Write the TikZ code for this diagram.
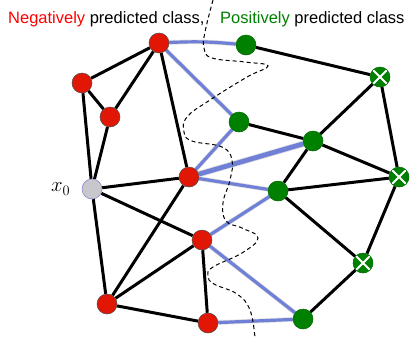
\documentclass[tikz,border=0pt]{standalone}
\usepackage{fontspec}
\setsansfont{Liberation Sans}
\usetikzlibrary{positioning,backgrounds}

\definecolor{negred}{RGB}{226,22,4}
\definecolor{posgreen}{RGB}{0,128,0}
\definecolor{cfblue}{RGB}{112,128,214}
\definecolor{querygray}{RGB}{200,200,204}

\begin{document}
\begin{tikzpicture}[
    x=1pt, y=-1pt,
    vertex/.style={circle, minimum size=20pt, inner sep=0pt, line width=0.5pt},
    negnode/.style={vertex, draw=black!70, fill=negred},
    posnode/.style={vertex, draw=posgreen!80!black, fill=posgreen},
    flipnode/.style={posnode, path picture={
        \draw[white, line width=2pt]
            ([shift={(-8pt,-8pt)}]path picture bounding box.center) -- ([shift={(8pt,8pt)}]path picture bounding box.center)
            ([shift={(-8pt,8pt)}]path picture bounding box.center) -- ([shift={(8pt,-8pt)}]path picture bounding box.center);}},
    querynode/.style={vertex, draw=black!40!blue!50, fill=querygray},
    link/.style={line width=3pt, black},
    cflink/.style={line width=3.2pt, cfblue, preaction={draw=black!12, line width=4.6pt}},
    headtext/.style={font=\sffamily\fontsize{16.5}{20}\selectfont, inner sep=0pt, anchor=base west}
]
    \useasboundingbox (0,0) rectangle (415,338);

    % Titles
    \node[headtext] (negtitle) at (8,23) {\textcolor{red}{Negatively} predicted class,};
    \node[headtext] (postitle) at (220,23) {\textcolor{posgreen}{Positively} predicted class};

    % Query point
    \node[querynode] (x0) at (92,189) {};
    \node[left=8pt of x0, font=\fontsize{22}{26}\selectfont] (x0lbl) {$x_0$};

    % Negatively predicted nodes
    \node[negnode] (r1) at (159,43) {};
    \node[negnode] (r2) at (82,83) {};
    \node[negnode] (r3) at (110,117) {};
    \node[negnode] (r4) at (189,177) {};
    \node[negnode] (r5) at (202,240) {};
    \node[negnode] (r6) at (107,304) {};
    \node[negnode] (r7) at (208,323) {};

    % Positively predicted nodes
    \node[posnode] (g1) at (246,45) {};
    \node[posnode] (g2) at (239,122) {};
    \node[posnode] (g3) at (313,141) {};
    \node[posnode] (g4) at (278,191) {};
    \node[posnode] (g5) at (303,319) {};
    \node[flipnode] (gx1) at (380,77) {};
    \node[flipnode] (gx2) at (399,177) {};
    \node[flipnode] (gx3) at (363,263) {};

    \begin{scope}[on background layer]
    % Edges
    \draw[link] (r1) -- (r2);
    \draw[link] (r1) -- (r3);
    \draw[link] (r1) -- (r4);
    \draw[link] (r2) -- (r3);
    \draw[link] (r2) -- (x0);
    \draw[link] (r3) -- (x0);
    \draw[link] (x0) -- (r4);
    \draw[link] (x0) -- (r5);
    \draw[link] (x0) -- (r6);
    \draw[link] (r4) -- (r6);
    \draw[link] (r5) -- (r6);
    \draw[link] (r5) -- (r7);
    \draw[link] (r6) -- (r7);
    \draw[link] (g1) -- (gx1);
    \draw[link] (g2) -- (g3);
    \draw[link] (g3) -- (gx1);
    \draw[link] (g3) -- (gx2);
    \draw[link] (g3) -- (g4);
    \draw[link] (g4) -- (gx2);
    \draw[link] (g4) -- (gx3);
    \draw[link] (gx1) -- (gx2);
    \draw[link] (gx2) -- (gx3);
    \draw[link] (gx3) -- (g5);

    % Edges across the boundary
    \draw[cflink] (r1) to[bend left=4] (g1);
    \draw[cflink] (r1) -- (g2);
    \draw[cflink] (r4) -- (g2);
    \draw[cflink, line width=4.8pt, preaction={draw=black!12, line width=6.4pt}] (r4) -- (g3);
    \draw[cflink] (r4) -- (g4);
    \draw[cflink] (r5) -- (g4);
    \draw[cflink] (r5) -- (g5);
    \draw[cflink] (r7) -- (g5);
    \end{scope}

    % Decision boundary
    \draw[line width=1pt, dash pattern=on 4pt off 3pt] plot[smooth, tension=0.7] coordinates {
        (213,0) (205,32) (204,48) (212,58) (245,62) (268,66) (247,77) (210,100)
        (187,117) (184,132) (192,141) (222,147) (232,160) (230,180) (223,203)
        (226,221) (242,228) (258,238) (242,253) (213,267) (208,276) (214,284)
        (237,294) (250,310) (255,338)};
\end{tikzpicture}
\end{document}
